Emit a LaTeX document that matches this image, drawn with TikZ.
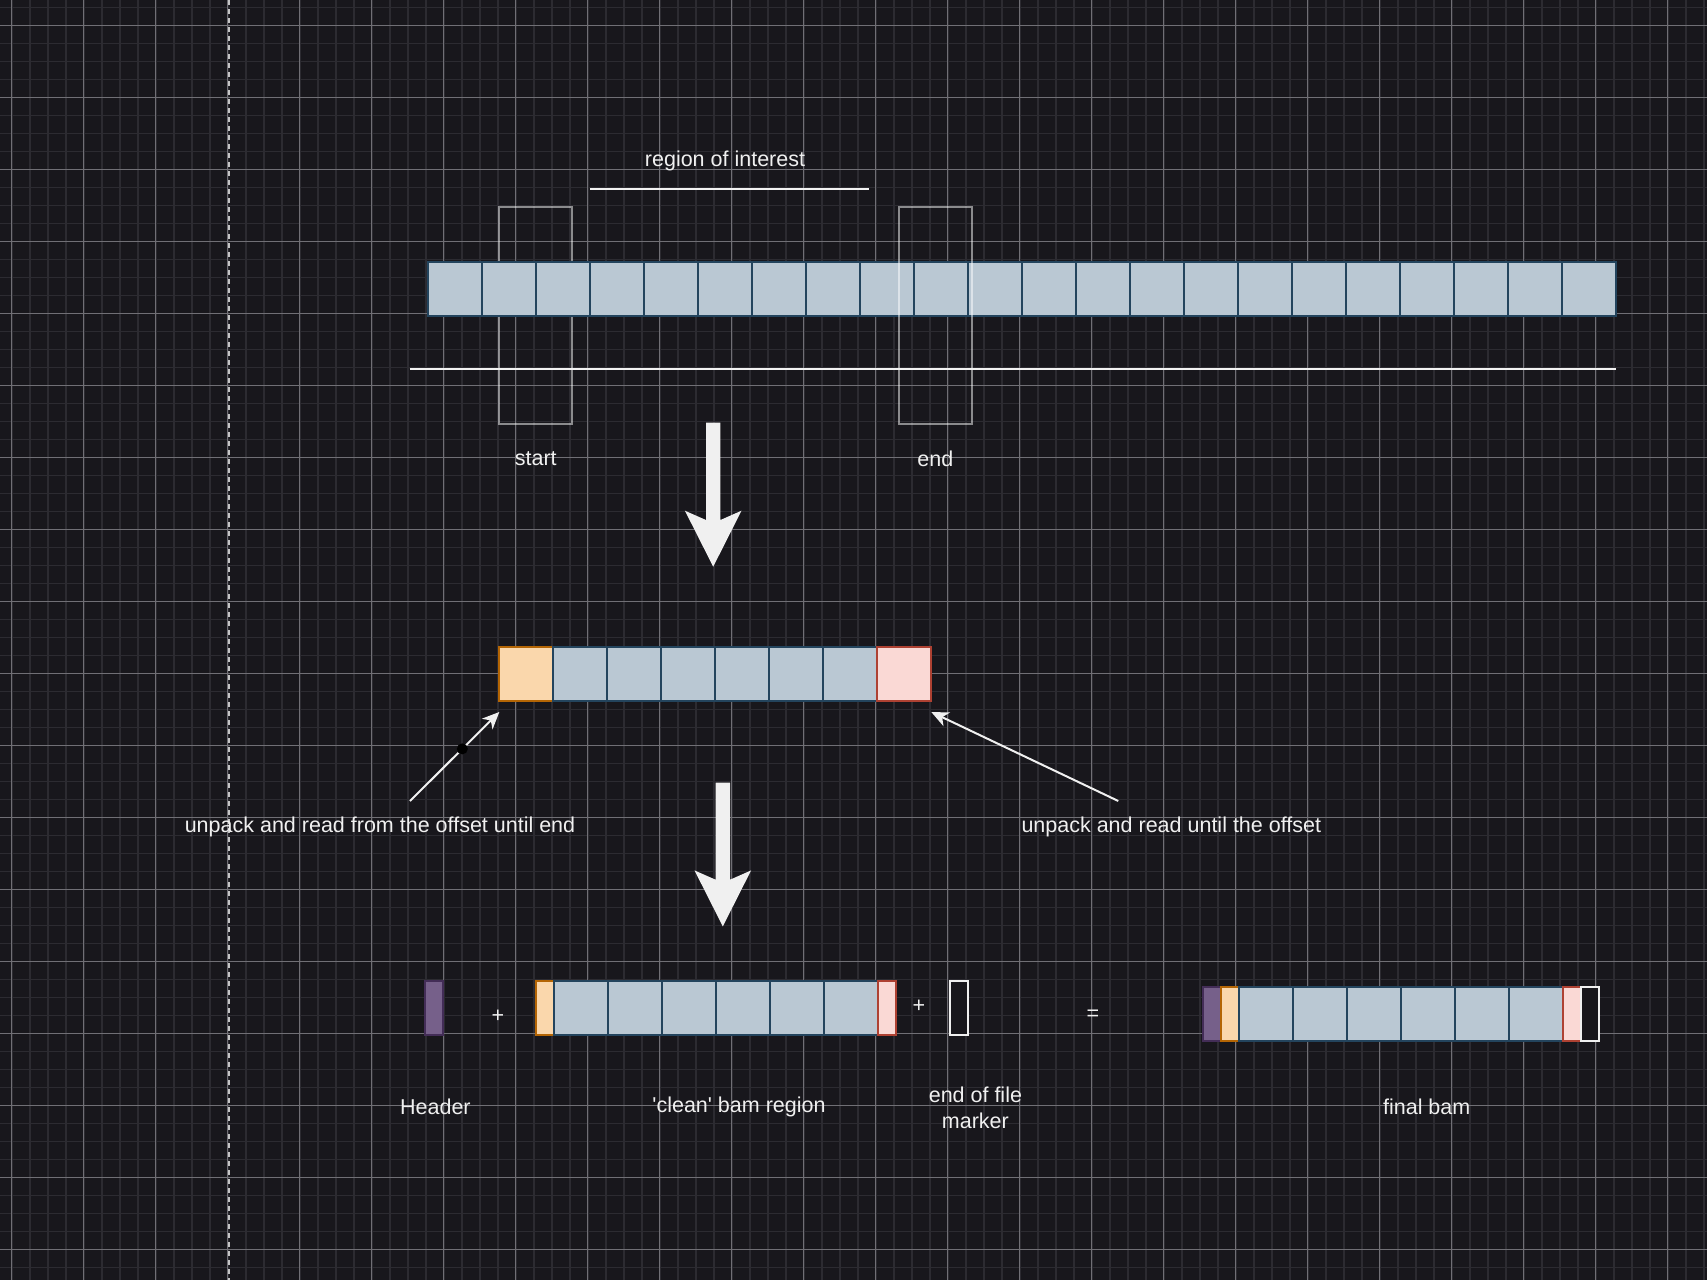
\documentclass[tikz,border=0pt]{standalone}
\usepackage{fontspec}
\setmainfont{Liberation Sans}
\newfontfamily\labelfont{Liberation Sans}
\usetikzlibrary{arrows.meta,positioning,calc}
\definecolor{canvas}{RGB}{24,23,28}
\definecolor{gridminor}{RGB}{44,43,49}
\definecolor{gridmajor}{RGB}{112,111,117}
\definecolor{readfill}{HTML}{BAC8D3}
\definecolor{readline}{HTML}{23445D}
\definecolor{headfill}{HTML}{FAD7AC}
\definecolor{headline}{HTML}{B46504}
\definecolor{tailfill}{HTML}{FAD9D5}
\definecolor{tailline}{HTML}{AE4132}
\definecolor{hdrfill}{HTML}{76608A}
\definecolor{hdrline}{HTML}{432D57}
\definecolor{ink}{RGB}{240,240,240}
\tikzset{
  cell/.style     = {draw=readline, fill=readfill, line width=2pt, rectangle,
                     inner sep=0pt, outer sep=0pt, minimum width=54pt, minimum height=54pt},
  slim/.style     = {cell, minimum width=18pt},
  headcell/.style = {draw=headline, fill=headfill},
  tailcell/.style = {draw=tailline, fill=tailfill},
  hdrcell/.style  = {draw=hdrline, fill=hdrfill},
  eofcell/.style  = {draw=ink, fill=canvas},
  winbox/.style   = {draw=white, draw opacity=0.5, line width=2pt, rectangle,
                     inner sep=0pt, minimum width=73pt, minimum height=217pt},
  lbl/.style      = {text=ink, font=\labelfont\fontsize{21.5pt}{26pt}\selectfont,
                     align=center, inner sep=0pt},
  whiteline/.style= {draw=ink!90, line width=2pt},
  sig/.style      = {draw=ink, line width=2pt, -{Stealth[length=17pt, width=15pt, inset=5pt]}},
  dotmark/.style  = {fill=black, circle, inner sep=0pt, minimum size=11pt},
}
% solid block arrow from #1 (tail) to #2 (tip)
\newcommand{\fatarrow}[2]{\fill[ink] ($(#1)+(-7.2,0)$) -- ($(#2)+(-7.2,-46.7)$)
  -- ($(#2)+(-28.3,-56)$) -- (#2) -- ($(#2)+(28.3,-56)$) -- ($(#2)+(7.2,-46.7)$)
  -- ($(#1)+(7.2,0)$) -- cycle;}

\begin{document}
\begin{tikzpicture}[x=1pt, y=-1pt]
\useasboundingbox (0,0) rectangle (1707,1280);
% ---- canvas and grid ----
\fill[canvas] (0,0) rectangle (1707,1280);
\foreach \k in {0,...,95} \draw[gridminor, line width=1.6pt] ({-6.3+18*\k},0) -- ++(0,1280);
\foreach \k in {0,...,71} \draw[gridminor, line width=1.6pt] (0,{7.3+18*\k}) -- ++(1707,0);
\foreach \k in {0,...,23} \draw[gridmajor, line width=1pt] ({11.7+72*\k},0) -- ++(0,1280);
\foreach \k in {0,...,17} \draw[gridmajor, line width=1pt] (0,{25.3+72*\k}) -- ++(1707,0);
\draw[white!75!canvas, line width=1.5pt, dash pattern=on 5pt off 4pt] (229,0) -- (229,1280);

% ---- whole file ----
\node[winbox] (sbox) at (535.8,315.6) {};
\node[cell, anchor=north west] (t1) at (427.7,261.7) {};
\foreach \i [remember=\i as \p (initially 1)] in {2,...,22}
  \node[cell, right=0pt of t\p] (t\i) {};
\node[winbox] (ebox) at (935.4,315.6) {};
\coordinate (roiL) at (590.2,189.3);
\coordinate (roiR) at (868.8,189.3);
\draw[whiteline] (roiL) -- (roiR);
\node[lbl] (roi) at (725,160.7) {region of interest};
\coordinate (baseL) at (409.6,369.3);
\draw[whiteline] (baseL) -- (baseL -| t22.east);
\node[lbl] (startlbl) at ($(sbox.south)+(0,34)$) {start};
\node[lbl] (endlbl) at ($(ebox.south)+(0,34)$) {end};

\coordinate (a1s) at (713.2,422.7);
\coordinate (a1e) at (713.2,566.7);
\fatarrow{a1s}{a1e}

% ---- extracted blocks ----
\node[cell, headcell, anchor=north west] (m1) at (499.3,646.7) {};
\foreach \i [remember=\i as \p (initially 1)] in {2,...,7}
  \node[cell, right=0pt of m\p] (m\i) {};
\node[cell, tailcell, right=0pt of m7] (m8) {};

\node[lbl] (rdL) at (380,826.7) {unpack and read from the offset until end};
\node[lbl] (rdR) at (1171.3,826.7) {unpack and read until the offset};
\coordinate (rdLs) at (410,801);
\coordinate (rdRs) at (1118.3,801);
\draw[sig] (rdLs) -- node[pos=0.586, dotmark] {} ($(m1.south west)+(0,11.3)$);
\draw[sig] (rdRs) -- ($(m8.south east)+(0,11.3)$);

\coordinate (a2s) at (722.8,782.7);
\coordinate (a2e) at (722.8,926.4);
\fatarrow{a2s}{a2e}

% ---- assembly ----
\node[slim, hdrcell, anchor=north west] (hdr) at (425.3,981.3) {};
\node[lbl] (plus1) at (498,1016) {+};
\node[slim, headcell, anchor=north west] (c1) at (535.9,981.3) {};
\foreach \i [remember=\i as \p (initially 1)] in {2,...,7}
  \node[cell, right=0pt of c\p] (c\i) {};
\node[slim, tailcell, right=0pt of c7] (c8) {};
\node[lbl] (plus2) at (919,1006) {+};
\node[slim, eofcell, anchor=north west] (eof) at (949.6,981.3) {};
\node[lbl] (eq) at (1093,1015.7) {=};

\node[slim, hdrcell, anchor=north west] (f1) at (1203.3,986.7) {};
\node[slim, headcell, right=0pt of f1] (f2) {};
\foreach \i [remember=\i as \p (initially 2)] in {3,...,8}
  \node[cell, right=0pt of f\p] (f\i) {};
\node[slim, tailcell, right=0pt of f8] (f9) {};
\node[slim, eofcell, right=0pt of f9] (f10) {};

\node[lbl] (hdrlbl) at (435.4,1106.7) {Header};
\node[lbl] (cleanlbl) at (739,1106.7) {'clean' bam region};
\node[lbl] (eoflbl) at (975.4,1107.5) {end of file\\marker};
\node[lbl] (finallbl) at (1426.7,1106.7) {final bam};
\end{tikzpicture}
\end{document}
